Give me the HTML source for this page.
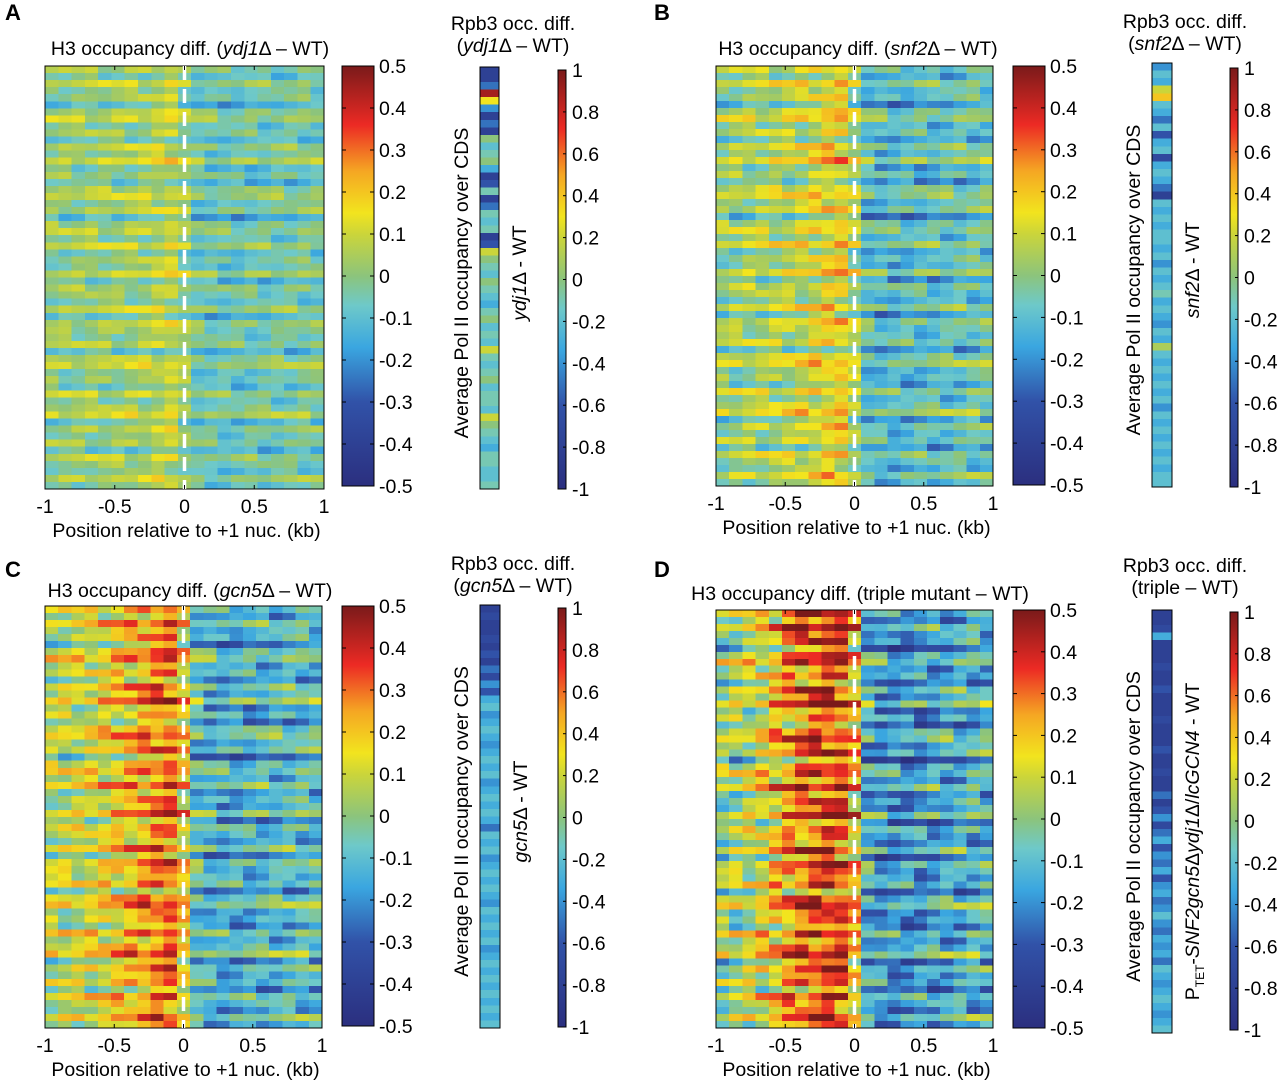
<!DOCTYPE html>
<html><head><meta charset="utf-8">
<style>
html,body{margin:0;padding:0;background:#fff;width:1280px;height:1084px;overflow:hidden}
svg{display:block;font-family:"Liberation Sans",Arial,sans-serif}
</style></head>
<body>
<svg id="fig" width="1280" height="1084" xmlns="http://www.w3.org/2000/svg">
<defs>
<linearGradient id="jet" x1="0" y1="1" x2="0" y2="0">
<stop offset="0" stop-color="#2b2f7f"/><stop offset="0.2" stop-color="#3152a8"/>
<stop offset="0.33" stop-color="#3aa6e0"/><stop offset="0.43" stop-color="#6ec9c9"/>
<stop offset="0.5" stop-color="#8cc47c"/><stop offset="0.6" stop-color="#cbd53a"/>
<stop offset="0.65" stop-color="#f2e41e"/><stop offset="0.75" stop-color="#f5a623"/>
<stop offset="0.86" stop-color="#ec2a24"/><stop offset="1" stop-color="#7a1a1a"/>
</linearGradient>
</defs>
</svg>
<script>
// Column profiles (mean H3 diff across position, -1..1 kb, 21 points)
const positions=[-1,-0.9,-0.8,-0.7,-0.6,-0.5,-0.4,-0.3,-0.2,-0.1,0,0.1,0.2,0.3,0.4,0.5,0.6,0.7,0.8,0.9,1];
const profileA=[0.0,0.0,0.0,0.01,0.01,0.01,0.02,0.03,0.05,0.07,0.01,-0.06,-0.07,-0.07,-0.07,-0.06,-0.06,-0.05,-0.05,-0.04,-0.04];
const profileB=[0.0,0.01,0.02,0.03,0.04,0.05,0.07,0.1,0.13,0.14,0.04,-0.1,-0.12,-0.12,-0.11,-0.1,-0.1,-0.09,-0.08,-0.07,-0.06];
const profileC=[0.05,0.06,0.07,0.09,0.12,0.15,0.18,0.22,0.26,0.28,0.15,-0.1,-0.14,-0.15,-0.15,-0.14,-0.13,-0.12,-0.11,-0.1,-0.1];
const profileD=[0.0,0.02,0.05,0.1,0.16,0.22,0.27,0.31,0.33,0.31,0.18,-0.15,-0.2,-0.21,-0.21,-0.2,-0.18,-0.16,-0.15,-0.13,-0.12];
// Row-wise variation (streak offsets)
const rowVar=[0.3,-0.5,0.6,-0.2,0.1,-0.8,0.4,0.7,-0.3,0.2,-0.6,0.5,-0.1,0.9,-0.4,0.1,-0.7,0.3,0.6,-0.2,0.4,-0.9,0.2,0.5,-0.3,0.7,-0.5,0.1,-0.2,0.8,-0.6,0.3,0.0,-0.4,0.6,-0.7,0.5,0.2,-0.1,0.4,-0.8,0.3,0.7,-0.2,0.1,-0.5,0.6,-0.3,0.2,0.8,-0.6,0.4,-0.1,0.3,-0.7,0.5,0.0,-0.4,0.6,-0.2];
const texture=[0.4,-0.6,0.1,0.8,-0.3,-0.9,0.5,0.2,-0.4,0.7,-0.1,0.3,-0.8,0.6,0.0,-0.5,0.9,-0.2,0.4,-0.7,0.2,0.5,-0.3];
const topRowsD=[0.12,0.1,0.08,0.06,0.04];
// Side-bar Rpb3 values (top to bottom)
const barA=[-0.8,-0.8,-0.5,0.9,0.3,-0.4,-0.8,-0.5,-0.8,0,-0.2,-0.1,0,-0.3,-0.8,-0.6,-0.1,-0.8,-0.5,-0.1,-0.2,-0.1,-0.8,-0.6,0.2,0,-0.1,-0.2,0,-0.1,-0.2,-0.3,-0.1,0,-0.2,-0.1,-0.2,0.2,-0.1,-0.2,-0.1,0,-0.2,-0.1,-0.1,-0.2,0.2,0,-0.1,-0.2,-0.3,-0.1,-0.1,-0.2,-0.2,-0.1];
const barB=[-0.4,-0.2,-0.3,0.2,0.4,-0.2,-0.3,-0.5,-0.2,-0.6,-0.3,-0.2,-0.7,-0.3,-0.2,-0.3,-0.5,-0.8,-0.2,-0.3,-0.2,-0.3,-0.2,-0.2,-0.3,-0.2,-0.4,-0.2,-0.3,-0.2,-0.1,-0.3,-0.2,-0.3,-0.4,-0.2,-0.3,0.1,-0.2,-0.3,-0.2,-0.3,-0.2,-0.3,-0.2,-0.4,-0.2,-0.3,-0.2,-0.3,-0.2,-0.3,-0.2,-0.3,-0.2,-0.2];
const barC=[-0.8,-0.7,-0.8,-0.8,-0.7,-0.8,-0.6,-0.8,-0.5,-0.7,-0.4,-0.6,-0.3,-0.2,-0.4,-0.3,-0.2,-0.3,-0.4,-0.3,-0.2,-0.3,-0.2,-0.4,-0.3,-0.2,-0.3,-0.2,-0.3,-0.5,-0.2,-0.3,-0.2,-0.4,-0.3,-0.2,-0.3,-0.2,-0.3,-0.4,-0.2,-0.3,-0.2,-0.3,-0.2,-0.4,-0.3,-0.2,-0.3,-0.2,-0.3,-0.2,-0.3,-0.2,-0.3,-0.2];
const barD=[-0.8,-0.8,-0.7,-0.3,-0.8,-0.8,-0.8,-0.7,-0.8,-0.8,-0.6,-0.8,-0.8,-0.8,-0.7,-0.8,-0.8,-0.8,-0.6,-0.8,-0.8,-0.7,-0.8,-0.8,-0.5,-0.8,-0.6,-0.4,-0.7,-0.5,-0.3,-0.6,-0.4,-0.5,-0.3,-0.6,-0.4,-0.3,-0.5,-0.4,-0.2,-0.4,-0.5,-0.3,-0.4,-0.3,-0.5,-0.2,-0.3,-0.4,-0.3,-0.2,-0.3,-0.4,-0.3,-0.2];
const xTicks=[-1,-0.5,0,0.5,1];
const xTickLabels=["-1","-0.5","0","0.5","1"];
const cb1Ticks=[0.5,0.4,0.3,0.2,0.1,0,-0.1,-0.2,-0.3,-0.4,-0.5];
const cb2Ticks=[1,0.8,0.6,0.4,0.2,0,-0.2,-0.4,-0.6,-0.8,-1];

const stops=[[0,[43,47,127]],[0.2,[49,82,168]],[0.33,[58,166,224]],[0.43,[110,201,201]],[0.5,[140,196,124]],[0.6,[203,213,58]],[0.65,[242,228,30]],[0.75,[245,166,35]],[0.86,[236,42,36]],[1,[122,26,26]]];
function cmap(t){t=Math.max(0,Math.min(1,t));for(let i=1;i<stops.length;i++){if(t<=stops[i][0]){const a=stops[i-1],b=stops[i];const f=(t-a[0])/(b[0]-a[0]);const c=a[1].map((v,k)=>Math.round(v+(b[1][k]-v)*f));return `rgb(${c})`;}}return 'rgb(122,26,26)';}
const NS="http://www.w3.org/2000/svg";
const svg=document.getElementById('fig');
function el(tag,attrs,parent){const e=document.createElementNS(NS,tag);for(const k in attrs)e.setAttribute(k,attrs[k]);(parent||svg).appendChild(e);return e;}
function txt(x,y,s,size,anchor,parent,extra){const t=el('text',Object.assign({x:x,y:y,'font-size':size,'text-anchor':anchor||'start'},extra||{}),parent);t.innerHTML=s;return t;}
const FS=19.5;

const panels=[
 {L:'A',hm:[45,66,279,423],prof:profileA,amp:0.12,tamp:0.08,cb:[342,66,32,420],bar:[480,67,19,422],cb2:[558,70,8,419],barv:barA,
  title:'H3 occupancy diff. (<tspan font-style="italic">ydj1</tspan>Δ – WT)',tx:190,ty:55,
  rt1:'Rpb3 occ. diff.',rt2:'(<tspan font-style="italic">ydj1</tspan>Δ – WT)',rtx:513,rty:30,lab:'<tspan font-style="italic">ydj1</tspan>Δ - WT'},
 {L:'B',hm:[716,66,277,420],prof:profileB,amp:0.15,tamp:0.1,cb:[1013,66,32,419],bar:[1152,63,20,424],cb2:[1230,68,8,419],barv:barB,
  title:'H3 occupancy diff. (<tspan font-style="italic">snf2</tspan>Δ – WT)',tx:858,ty:55,
  rt1:'Rpb3 occ. diff.',rt2:'(<tspan font-style="italic">snf2</tspan>Δ – WT)',rtx:1185,rty:28,lab:'<tspan font-style="italic">snf2</tspan>Δ - WT'},
 {L:'C',hm:[45,606,277,422],prof:profileC,amp:0.18,tamp:0.12,cb:[342,606,32,420],bar:[480,605,20,423],cb2:[558,608,8,419],barv:barC,
  title:'H3 occupancy diff. (<tspan font-style="italic">gcn5</tspan>Δ – WT)',tx:190,ty:597,
  rt1:'Rpb3 occ. diff.',rt2:'(<tspan font-style="italic">gcn5</tspan>Δ – WT)',rtx:513,rty:570,lab:'<tspan font-style="italic">gcn5</tspan>Δ - WT'},
 {L:'D',hm:[716,610,277,418],prof:profileD,amp:0.2,tamp:0.15,cb:[1013,610,32,418],bar:[1152,610,20,423],cb2:[1230,612,8,418],barv:barD,
  title:'H3 occupancy diff. (triple mutant – WT)',tx:860,ty:600,
  rt1:'Rpb3 occ. diff.',rt2:'(triple – WT)',rtx:1185,rty:572,lab:'P<tspan font-size="12" dy="5">TET</tspan><tspan dy="-5">-</tspan><tspan font-style="italic">SNF2gcn5</tspan>Δ<tspan font-style="italic">ydj1</tspan>Δ/<tspan font-style="italic">lcGCN4</tspan> - WT'}
];
const letterPos={A:[5,20],B:[654,20],C:[5,577],D:[654,577]};

panels.forEach((p,pi)=>{
  const g=el('g',{});  
  const lt=txt(letterPos[p.L][0],letterPos[p.L][1],p.L,22,'start',g,{'font-weight':'bold'});
  
  const tt=txt(p.tx,p.ty,p.title,FS,'middle',g);  
  const [hx,hy,hw,hh]=p.hm;
  const hg=el('g',{'shape-rendering':'crispEdges'},g);  
  const xs=v=>hx+(v+1)/2*hw;
  const nR=rowVar.length, nC=positions.length;
  const cw=hw/nC, rh=hh/nR;
  for(let r=0;r<nR;r++){for(let c=0;c<nC;c++){
    let v=p.prof[c]+rowVar[r]*p.amp+texture[(r*7+c*3)%texture.length]*p.tamp;
    if(p.L==='D'&&r<topRowsD.length&&c>=5&&c<=10) v+=topRowsD[r];
    const rc=el('rect',{x:hx+c*cw,y:hy+r*rh,width:cw+0.6,height:rh+0.6,fill:cmap((v+0.5)/1)},hg);
    
  }}
  el('rect',{x:hx,y:hy,width:hw,height:hh,fill:'none',stroke:'#000','stroke-width':1},g);
  const dl=el('line',{x1:xs(0),x2:xs(0),y1:hy,y2:hy+hh,stroke:'#fff','stroke-width':3.5,'stroke-dasharray':'14,9'},g);
  
  xTicks.forEach((t,i)=>{el('line',{x1:xs(t),x2:xs(t),y1:hy+hh,y2:hy+hh-4,stroke:'#000'},g);el('line',{x1:xs(t),x2:xs(t),y1:hy,y2:hy+4,stroke:'#000'},g);
    const tl=txt(xs(t),hy+hh+24,xTickLabels[i],FS,'middle',g);});
  const xt=txt(hx+hw/2+2,hy+hh+48,'Position relative to +1 nuc. (kb)',FS,'middle',g);
  
  const [cx,cy,cwd,ch]=p.cb;
  const cbr=el('rect',{x:cx,y:cy,width:cwd,height:ch,fill:'url(#jet)',stroke:'#000'},g);
  
  cb1Ticks.forEach(t=>{const y=cy+(0.5-t)*ch;el('line',{x1:cx+cwd-4,x2:cx+cwd,y1:y,y2:y,stroke:'#000'},g);el('line',{x1:cx,x2:cx+4,y1:y,y2:y,stroke:'#000'},g);
    const l=txt(cx+cwd+5,y+7,String(t),FS,'start',g);});
  const [bx,by,bw,bh]=p.bar;
  const bg=el('g',{'shape-rendering':'crispEdges'},g);  
  const bhh=bh/p.barv.length;
  p.barv.forEach((v,i)=>{const r=el('rect',{x:bx,y:by+i*bhh,width:bw,height:bhh+0.6,fill:cmap((v+1)/2)},bg);
    });
  el('rect',{x:bx,y:by,width:bw,height:bh,fill:'none',stroke:'#000'},g);
  const [dx,dy,dw,dh]=p.cb2;
  const c2=el('rect',{x:dx,y:dy,width:dw,height:dh,fill:'url(#jet)',stroke:'#000'},g);
  
  cb2Ticks.forEach(t=>{const y=dy+(1-t)/2*dh;el('line',{x1:dx+dw,x2:dx+dw-3,y1:y,y2:y,stroke:'#000'},g);
    const l=txt(dx+dw+6,y+7,String(t),FS,'start',g);});
  const r1=txt(p.rtx,p.rty,p.rt1,FS,'middle',g);
  const r2=txt(p.rtx,p.rty+22,p.rt2,FS,'middle',g);
  const my=by+bh/2;
  const yl=txt(0,0,'Average Pol II occupancy over CDS',FS,'middle',g,{transform:`translate(${bx-12},${my+5}) rotate(-90)`});
  
  const sl=txt(0,0,p.lab,FS,'middle',g,{transform:`translate(${bx+bw+27},${p.L==='D'?my+20:my-5}) rotate(-90)`});
  
});
</script>
</body></html>
